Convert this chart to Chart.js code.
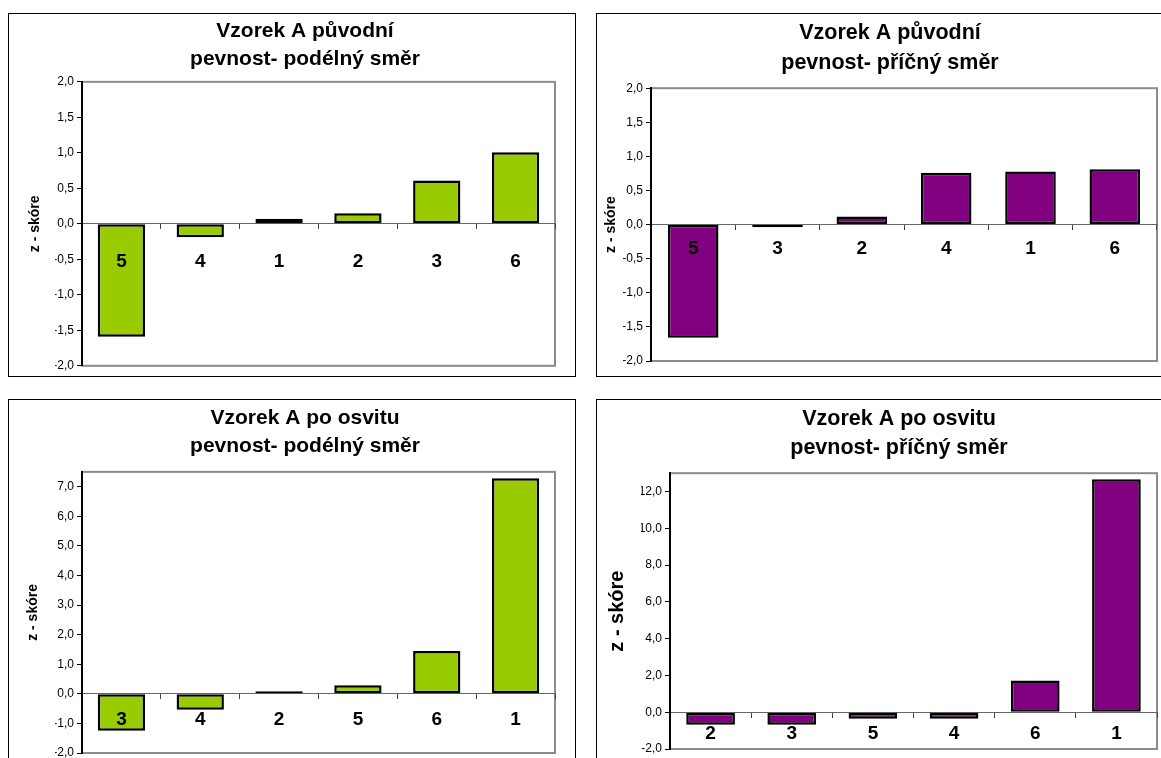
<!DOCTYPE html>
<html>
<head>
<meta charset="utf-8">
<script src="https://cdn.jsdelivr.net/npm/chart.js@4.4.0/dist/chart.umd.min.js"></script>
<style>
body { margin: 0; background: #fff; width: 1161px; height: 758px; overflow: hidden; position: relative; }
.box { position: absolute; border: 1px solid #000; background: #fff; }
.box canvas { display: block; }
</style>
</head>
<body>
<div class="box" style="left:8px;top:13px;"><canvas id="chartA1" width="566" height="362"></canvas></div>
<div class="box" style="left:596px;top:13px;"><canvas id="chartA2" width="598" height="362"></canvas></div>
<div class="box" style="left:8px;top:399px;"><canvas id="chartB1" width="566" height="378"></canvas></div>
<div class="box" style="left:596px;top:399px;"><canvas id="chartB2" width="598" height="378"></canvas></div>
<script>
// data (z-score per sample)
const puvodniPodelnyLabels = ['5', '4', '1', '2', '3', '6'];
const puvodniPodelnyValues = [-1.59, -0.19, 0.07, 0.15, 0.61, 1.01];

const puvodniPricnyLabels = ['5', '3', '2', '4', '1', '6'];
const puvodniPricnyValues = [-1.66, -0.04, 0.12, 0.76, 0.78, 0.81];

const osvitPodelnyLabels = ['3', '4', '2', '5', '6', '1'];
const osvitPodelnyValues = [-1.25, -0.54, 0.09, 0.29, 1.45, 7.28];

const osvitPricnyLabels = ['2', '3', '5', '4', '6', '1'];
const osvitPricnyValues = [-0.68, -0.68, -0.36, -0.36, 1.73, 12.67];

const titlePuvodniPodelny = ['Vzorek A původní', 'pevnost- podélný směr'];
const titlePuvodniPricny = ['Vzorek A původní', 'pevnost- příčný směr'];
const titleOsvitPodelny = ['Vzorek A po osvitu', 'pevnost- podélný směr'];
const titleOsvitPricny = ['Vzorek A po osvitu', 'pevnost- příčný směr'];

const yAxisTitle = 'z - skóre';

const GREEN = '#99CC00';
const PURPLE = '#800080';
const FONT = 'Arial, "Liberation Sans", sans-serif';

Chart.defaults.font.family = FONT;
Chart.defaults.color = '#000';

// grey frame round the plot area, like the Excel plot area border
const plotFrame = {
    id: 'plotFrame',
    beforeDraw(chart) {
        const a = chart.chartArea;
        const ctx = chart.ctx;
        ctx.save();
        ctx.strokeStyle = '#8c8c8c';
        ctx.lineWidth = 2;
        ctx.strokeRect(a.left, a.top, a.right - a.left, a.bottom - a.top);
        ctx.restore();
    }
};

function makeChart(id, o) {
    const ctx = document.getElementById(id).getContext('2d');
    return new Chart(ctx, {
        type: 'bar',
        data: {
            labels: o.labels,
            datasets: [{
                data: o.values,
                backgroundColor: o.color,
                borderColor: '#000',
                borderWidth: 2.5,
                borderSkipped: false,
                barPercentage: 0.6,
                categoryPercentage: 1
            }]
        },
        options: {
            responsive: false,
            animation: false,
            events: [],
            // left padding only moves the centred title; the y axis keeps its place
            layout: { padding: { left: o.padLeft, right: o.padRight, top: 0, bottom: o.padBottom } },
            scales: {
                x: {
                    type: 'category',
                    position: { y: 0 },
                    offset: true,
                    grid: {
                        offset: true,
                        drawOnChartArea: false,
                        drawTicks: true,
                        tickLength: 5,
                        tickColor: '#444',
                        tickWidth: 1
                    },
                    border: { display: true, color: '#666', width: 1 },
                    ticks: {
                        z: 1, // sample numbers sit on top of the bars
                        font: { size: 19, weight: 'bold' },
                        color: '#000',
                        padding: o.labelPad,
                        maxRotation: 0
                    }
                },
                y: {
                    min: o.yMin,
                    max: o.yMax,
                    afterFit(scale) { scale.width = o.axisWidth - o.padLeft; },
                    grid: {
                        drawOnChartArea: false,
                        tickLength: 5,
                        tickColor: '#000',
                        tickWidth: 1
                    },
                    border: { display: true, color: '#000', width: 2 },
                    ticks: {
                        stepSize: o.yStep,
                        includeBounds: false,
                        font: { size: 12 },
                        color: '#000',
                        padding: 3,
                        callback: v => v.toFixed(1).replace('.', ',')
                    },
                    title: {
                        display: true,
                        text: yAxisTitle,
                        font: { size: o.yTitleSize, weight: 'bold' },
                        color: '#000',
                        padding: { top: o.yTitleX - o.padLeft - o.yTitleSize * 0.6, bottom: 0 }
                    }
                }
            },
            plugins: {
                legend: { display: false },
                tooltip: { enabled: false },
                title: {
                    display: true,
                    text: o.title,
                    fullSize: true,
                    color: '#000',
                    font: { size: o.titleSize, weight: 'bold', lineHeight: o.titleLine },
                    padding: { top: o.titleTop, bottom: o.titleBottom }
                }
            }
        },
        plugins: [plotFrame]
    });
}

makeChart('chartA1', {
    labels: puvodniPodelnyLabels, values: puvodniPodelnyValues, color: GREEN,
    title: titlePuvodniPodelny, titleSize: 21, titleLine: 1.33, titleTop: 3, titleBottom: 9,
    yMin: -2, yMax: 2, yStep: 0.5,
    axisWidth: 73, padLeft: 46, padRight: 20, padBottom: 10, labelPad: 22,
    yTitleSize: 14, yTitleX: 26
});

makeChart('chartA2', {
    labels: puvodniPricnyLabels, values: puvodniPricnyValues, color: PURPLE,
    title: titlePuvodniPricny, titleSize: 21.5, titleLine: 1.4, titleTop: 4, titleBottom: 10,
    yMin: -2, yMax: 2, yStep: 0.5,
    axisWidth: 54, padLeft: 26, padRight: 38, padBottom: 15, labelPad: 8,
    yTitleSize: 14, yTitleX: 14
});

makeChart('chartB1', {
    labels: osvitPodelnyLabels, values: osvitPodelnyValues, color: GREEN,
    title: titleOsvitPodelny, titleSize: 21, titleLine: 1.33, titleTop: 4, titleBottom: 12,
    yMin: -2, yMax: 7.5, yStep: 1,
    axisWidth: 73, padLeft: 46, padRight: 20, padBottom: 25, labelPad: 10,
    yTitleSize: 14, yTitleX: 24
});

makeChart('chartB2', {
    labels: osvitPricnyLabels, values: osvitPricnyValues, color: PURPLE,
    title: titleOsvitPricny, titleSize: 21.5, titleLine: 1.33, titleTop: 5, titleBottom: 11,
    yMin: -2, yMax: 13, yStep: 2,
    axisWidth: 73, padLeft: 44, padRight: 38, padBottom: 29, labelPad: 5,
    yTitleSize: 20, yTitleX: 20
});
</script>
</body>
</html>
